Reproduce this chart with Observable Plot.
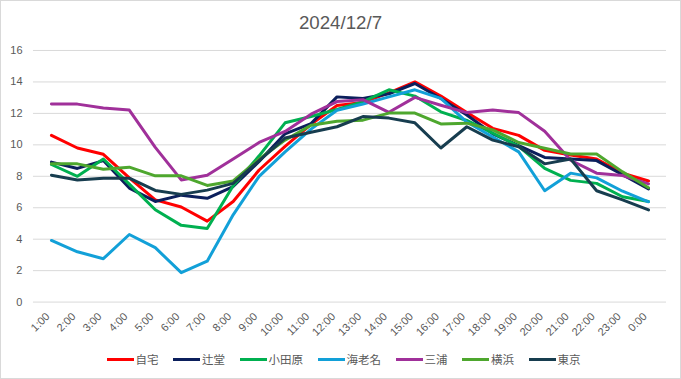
<!DOCTYPE html>
<html>
<head>
<meta charset="utf-8">
<script src="https://cdn.jsdelivr.net/npm/d3@7"></script>
<script src="https://cdn.jsdelivr.net/npm/@observablehq/plot@0.6"></script>
<style>
  html, body { margin: 0; padding: 0; background: #fff; }
  #wrap {
    position: relative; width: 681px; height: 379px; box-sizing: border-box;
    border: 1px solid #d9d9d9; overflow: hidden;
    font-family: "Liberation Sans", Arial, "Noto Sans CJK JP", sans-serif;
  }
  #title {
    position: absolute; left: 0; top: 12px; width: 679px; text-align: center;
    font-size: 18.7px; line-height: 20px; color: #595959;
  }
  #chart { position: absolute; left: -1px; top: 39px; }
  #legend {
    position: absolute; left: 3px; width: 679px; top: 349px; height: 18px;
    display: flex; justify-content: center; align-items: center;
    font-family: "Noto Sans CJK JP", sans-serif; font-size: 11.5px; color: #595959;
  }
  .item { display: flex; align-items: center; margin-right: 14.5px; }
  .item:last-child { margin-right: 0; }
  .sw { display: inline-block; width: 27px; height: 3px; margin-right: 2px; }
</style>
</head>
<body>
<div id="wrap">
  <div id="title">2024/12/7</div>
  <div id="chart"></div>
  <div id="legend"></div>
</div>
<script>
const hours = ["1:00","2:00","3:00","4:00","5:00","6:00","7:00","8:00","9:00","10:00","11:00","12:00",
  "13:00","14:00","15:00","16:00","17:00","18:00","19:00","20:00","21:00","22:00","23:00","0:00"];
const seriesNames = ["自宅","辻堂","小田原","海老名","三浦","横浜","東京"];
const seriesColors = ["#ff0000","#0b1f5c","#00b050","#12a0d8","#a0309a","#4ea72e","#173d4f"];
const yTicks = [0,2,4,6,8,10,12,14,16];

const jitaku  = [10.6, 9.8, 9.4, 7.9, 6.5, 6.05, 5.15, 6.4, 8.4, 9.9, 11.3, 12.5, 12.7, 13.3, 14.0, 13.1, 12.05, 11.05, 10.6, 9.65, 9.35, 9.1, 8.2, 7.7];
const tsujido = [8.9, 8.5, 9.0, 7.25, 6.4, 6.8, 6.6, 7.35, 8.95, 10.7, 11.35, 13.05, 12.95, 13.25, 13.9, 12.95, 11.9, 10.7, 9.95, 9.2, 9.1, 9.0, 8.1, 7.2];
const odawara = [8.75, 8.0, 9.1, 7.5, 5.87, 4.88, 4.68, 7.4, 9.3, 11.4, 11.8, 12.25, 12.75, 13.5, 13.1, 12.1, 11.55, 10.75, 9.9, 8.5, 7.74, 7.55, 6.7, 6.4];
const ebina   = [3.92, 3.2, 2.76, 4.3, 3.46, 1.87, 2.6, 5.55, 8.0, 9.55, 11.0, 12.2, 12.6, 13.05, 13.5, 12.95, 11.45, 10.5, 9.55, 7.08, 8.2, 7.9, 7.05, 6.38];
const miura   = [12.59, 12.59, 12.34, 12.21, 9.84, 7.77, 8.07, 9.1, 10.15, 10.85, 11.95, 12.75, 12.87, 12.07, 13.02, 12.52, 12.05, 12.22, 12.05, 10.86, 9.02, 8.2, 8.05, 7.52];
const yokohama= [8.79, 8.79, 8.45, 8.58, 8.03, 8.03, 7.42, 7.7, 9.1, 10.3, 11.25, 11.5, 11.57, 12.02, 12.02, 11.33, 11.38, 10.95, 10.15, 9.78, 9.42, 9.42, 8.28, 7.27];
const tokyo   = [8.07, 7.77, 7.88, 7.88, 7.1, 6.85, 7.12, 7.55, 9.0, 10.43, 10.8, 11.15, 11.8, 11.7, 11.4, 9.8, 11.15, 10.3, 9.88, 8.79, 9.1, 7.08, 6.5, 5.86];

const seriesValues = [jitaku, tsujido, odawara, ebina, miura, yokohama, tokyo];
const data = [];
seriesNames.forEach((name, i) => {
  seriesValues[i].forEach((v, j) => data.push({series: name, hour: hours[j], value: v}));
});

const chart = Plot.plot({
  width: 681,
  height: 300,
  marginLeft: 33,
  marginRight: 14,
  marginTop: 10,
  marginBottom: 38,
  x: {type: "point", domain: hours, padding: 0.5, axis: null},
  y: {domain: [0, 16], axis: null},
  color: {domain: seriesNames, range: seriesColors},
  style: {fontFamily: "'Liberation Sans', Arial, sans-serif", background: "transparent", overflow: "visible"},
  marks: [
    Plot.gridY(yTicks, {stroke: "#d9d9d9", strokeOpacity: 1, strokeWidth: 1}),
    Plot.axisY(yTicks, {label: null, tickSize: 0, tickPadding: 11, fontSize: 11, color: "#595959", tickFormat: d => String(d)}),
    Plot.text(hours, {x: d => d, frameAnchor: "bottom", rotate: -45, textAnchor: "end",
      dx: -1, dy: 15, fontSize: 11, fill: "#595959"}),
    Plot.line(data, {x: "hour", y: "value", z: "series", stroke: "series",
      strokeWidth: 3, strokeLinejoin: "round", strokeLinecap: "round"})
  ]
});
document.getElementById("chart").appendChild(chart);

const legend = document.getElementById("legend");
seriesNames.forEach((name, i) => {
  const item = document.createElement("div");
  item.className = "item";
  const sw = document.createElement("span");
  sw.className = "sw";
  sw.style.background = seriesColors[i];
  const t = document.createElement("span");
  t.textContent = name;
  item.appendChild(sw);
  item.appendChild(t);
  legend.appendChild(item);
});
</script>
</body>
</html>
